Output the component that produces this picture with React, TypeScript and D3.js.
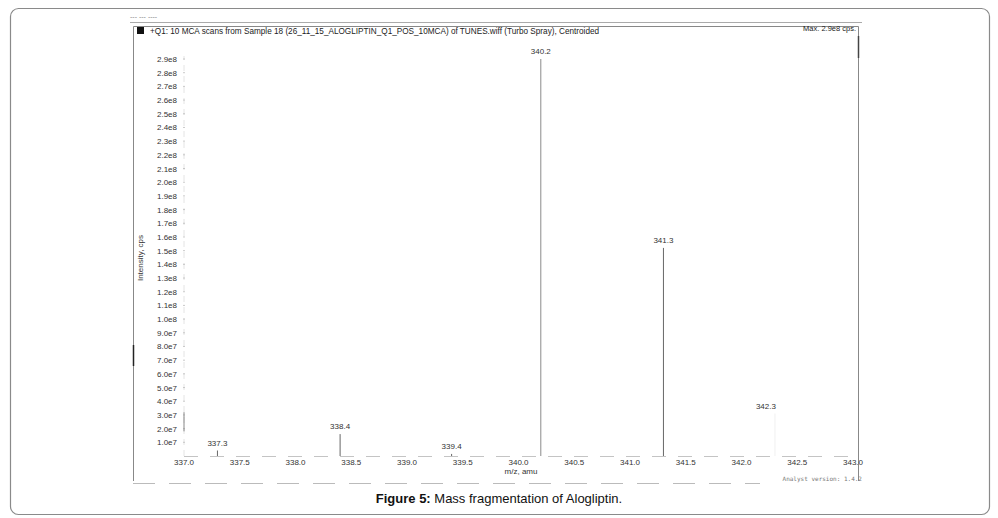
import React, { useRef, useEffect } from 'react';
import * as d3 from 'd3';

// picos centroidados (m/z, intensidad en cps)
const picoMz = [337.3, 338.4, 339.4, 340.2, 341.3, 342.3];
const picoIntensidad = [4.0e6, 1.6e7, 1.5e6, 2.9e8, 1.52e8, 3.1e7];

const ticksY = d3.range(1, 30).map((i) => i * 1e7);
const ticksX = d3.range(0, 13).map((i) => 337 + i * 0.5);

const titulo = '+Q1: 10 MCA scans from Sample 18 (26_11_15_ALOGLIPTIN_Q1_POS_10MCA) of TUNES.wiff (Turbo Spray), Centroided';

const formatoY = (v: number) => {
  if (v >= 1e8) return (v / 1e8).toFixed(1) + 'e8';
  return (v / 1e7).toFixed(1) + 'e7';
};

const W = 998;
const H = 518;

const App: React.FC = () => {
  const svgRef = useRef<SVGSVGElement | null>(null);

  useEffect(() => {
    document.body.style.margin = '0';
    if (!svgRef.current) return;

    const svg = d3.select<SVGSVGElement, unknown>(svgRef.current);
    svg.selectAll('*').remove();

    const x = d3.scaleLinear().domain([337, 343]).range([184, 853]);
    const y = d3.scaleLinear().domain([0, 2.9e8]).range([456, 59]);

    const fuente = 'Arial, "Liberation Sans", sans-serif';

    // marco exterior redondeado
    svg.append('rect')
      .attr('x', 10.5).attr('y', 8.5)
      .attr('width', 979).attr('height', 506)
      .attr('rx', 8)
      .attr('fill', 'white')
      .attr('stroke', '#8a8a8a')
      .attr('stroke-width', 1.2);

    // marco del espectro escaneado
    svg.append('line')
      .attr('x1', 130).attr('x2', 862).attr('y1', 22.5).attr('y2', 22.5)
      .attr('stroke', '#aaa').attr('stroke-width', 1);
    svg.append('text')
      .attr('x', 130).attr('y', 19)
      .text('--- --- ----')
      .style('font-family', fuente).style('font-size', '7px').style('fill', '#888');

    svg.append('path')
      .attr('d', 'M133.5,481 L133.5,26.5 L858.5,26.5 L858.5,481')
      .attr('fill', 'none').attr('stroke', '#888').attr('stroke-width', 1);
    svg.append('line')
      .attr('x1', 133.5).attr('x2', 133.5).attr('y1', 345).attr('y2', 366)
      .attr('stroke', '#222').attr('stroke-width', 1.5);
    svg.append('line')
      .attr('x1', 858.5).attr('x2', 858.5).attr('y1', 36).attr('y2', 58)
      .attr('stroke', '#444').attr('stroke-width', 1.5);
    svg.append('line')
      .attr('x1', 133).attr('x2', 760).attr('y1', 483.5).attr('y2', 483.5)
      .attr('stroke', '#bbb').attr('stroke-width', 1)
      .attr('stroke-dasharray', '22,14');

    // título
    svg.append('rect')
      .attr('x', 137).attr('y', 27).attr('width', 7).attr('height', 7)
      .attr('fill', '#111');
    svg.append('text')
      .attr('x', 150).attr('y', 34)
      .text(titulo)
      .style('font-family', fuente).style('font-size', '8.2px').style('fill', '#222');
    svg.append('text')
      .attr('x', 856).attr('y', 31)
      .attr('text-anchor', 'end')
      .text('Max. 2.9e8 cps.')
      .style('font-family', fuente).style('font-size', '7.5px').style('fill', '#222');

    // eje Y
    svg.append('line')
      .attr('x1', 184).attr('x2', 184).attr('y1', y(0)).attr('y2', y(2.9e8) - 3)
      .attr('stroke', '#ddd').attr('stroke-width', 0.8)
      .attr('stroke-dasharray', '6,5');
    const gy = svg.append('g');
    gy.selectAll('line')
      .data(ticksY)
      .enter().append('line')
      .attr('x1', 183).attr('x2', 185)
      .attr('y1', (d) => y(d)).attr('y2', (d) => y(d))
      .attr('stroke', '#bbb').attr('stroke-width', 0.8);
    gy.selectAll('text')
      .data(ticksY)
      .enter().append('text')
      .attr('x', 177)
      .attr('y', (d) => y(d) + 3)
      .attr('text-anchor', 'end')
      .text((d) => formatoY(d))
      .style('font-family', fuente).style('font-size', '8px').style('fill', '#333');
    svg.append('line')
      .attr('x1', 184).attr('x2', 184).attr('y1', y(3.2e7)).attr('y2', y(1.8e7))
      .attr('stroke', '#888').attr('stroke-width', 1);

    svg.append('text')
      .attr('transform', `translate(143,258) rotate(-90)`)
      .attr('text-anchor', 'middle')
      .text('Intensity, cps')
      .style('font-family', fuente).style('font-size', '8px').style('fill', '#333');

    // eje X
    svg.append('line')
      .attr('x1', 184).attr('x2', 856).attr('y1', y(0) + 0.5).attr('y2', y(0) + 0.5)
      .attr('stroke', '#c4c4c4').attr('stroke-width', 1)
      .attr('stroke-dasharray', '14,12');
    svg.append('g').selectAll('text')
      .data(ticksX)
      .enter().append('text')
      .attr('x', (d) => x(d))
      .attr('y', 465)
      .attr('text-anchor', 'middle')
      .text((d) => d.toFixed(1))
      .style('font-family', fuente).style('font-size', '8px').style('fill', '#333');
    svg.append('text')
      .attr('x', 521).attr('y', 474)
      .attr('text-anchor', 'middle')
      .text('m/z, amu')
      .style('font-family', fuente).style('font-size', '8px').style('fill', '#333');

    // picos
    const picos = picoMz.map((mz, i) => ({ mz, v: picoIntensidad[i] }));
    const gp = svg.append('g');
    gp.selectAll('line')
      .data(picos)
      .enter().append('line')
      .attr('x1', (d) => x(d.mz)).attr('x2', (d) => x(d.mz))
      .attr('y1', y(0)).attr('y2', (d) => y(d.v))
      .attr('stroke', (d) => (d.mz === 342.3 ? '#f0f0f0' : d.mz === 340.2 ? '#8a8a8a' : '#666'))
      .attr('stroke-width', 1);
    gp.selectAll('text')
      .data(picos)
      .enter().append('text')
      .attr('x', (d) => x(d.mz) - (d.mz === 342.3 ? 9 : 0))
      .attr('y', (d) => y(d.v) - 5)
      .attr('text-anchor', 'middle')
      .text((d) => d.mz.toFixed(1))
      .style('font-family', fuente).style('font-size', '8px').style('fill', '#333');

    svg.append('text')
      .attr('x', 862).attr('y', 481)
      .attr('text-anchor', 'end')
      .text('Analyst version: 1.4.2')
      .style('font-family', '"DejaVu Sans Mono", monospace').style('font-size', '6px').style('fill', '#777');

    // pie de figura
    const pie = svg.append('text')
      .attr('x', 499).attr('y', 503)
      .attr('text-anchor', 'middle')
      .style('font-family', fuente).style('font-size', '13px').style('fill', '#111');
    pie.append('tspan').style('font-weight', 'bold').text('Figure 5:');
    pie.append('tspan').text(' Mass fragmentation of Alogliptin.');
  }, []);

  return <svg ref={svgRef} width={W} height={H} style={{ display: 'block' }}></svg>;
};

export default App;
